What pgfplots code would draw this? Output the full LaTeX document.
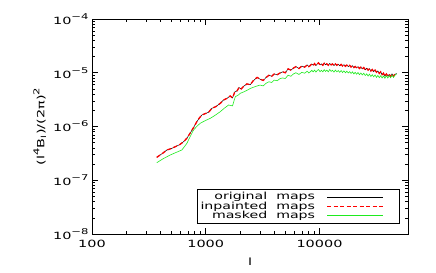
\documentclass[border=0pt]{standalone}
\usepackage{fontspec}
\setmainfont[FakeStretch=1.45]{DejaVu Sans}
\usepackage{pgfplots}
\usepackage{pgfplotstable}
\pgfplotsset{compat=1.18}
\definecolor{idlgreen}{RGB}{30,235,30}
\pgfplotstableread{
l v
371 2.67e-7
420 3.2e-7
455 3.66e-7
500 3.9e-7
539 4.2e-7
590 4.6e-7
637 5.2e-7
680 6.0e-7
729 7.5e-7
780 9.5e-7
835 1.23e-6
880 1.45e-6
925 1.64e-6
1000 1.75e-6
1059 1.84e-6
1133 2.18e-6
1230 2.35e-6
1343 2.7e-6
1430 3.1e-6
1538 3.34e-6
1640 3.7e-6
1720 3.4e-6
1800 4.4e-6
1884 4.6e-6
1960 5.3e-6
2050 5.0e-6
2155 5.6e-6
2300 6.2e-6
2465 6.0e-6
2600 7.0e-6
2826 8.2e-6
3000 7.6e-6
3200 7.2e-6
3400 8.2e-6
3600 9.0e-6
3800 8.6e-6
4000 9.5e-6
4250 9.2e-6
4500 9.9e-6
4750 1.04e-5
5000 1.00e-5
5300 1.18e-5
5600 1.12e-5
5900 1.22e-5
6200 1.30e-5
6600 1.20e-5
7000 1.33e-5
7400 1.27e-5
7800 1.40e-5
8050 1.30e-5
8300 1.36e-5
8550 1.46e-5
8800 1.38e-5
9050 1.48e-5
9300 1.36e-5
9550 1.45e-5
9800 1.53e-5
10100 1.40e-5
10400 1.46e-5
10700 1.38e-5
11000 1.50e-5
11300 1.41e-5
11600 1.47e-5
11950 1.38e-5
12300 1.49e-5
12650 1.40e-5
13000 1.46e-5
13400 1.36e-5
13800 1.46e-5
14200 1.38e-5
14600 1.44e-5
15050 1.35e-5
15500 1.43e-5
15950 1.34e-5
16400 1.41e-5
16900 1.32e-5
17400 1.39e-5
17900 1.30e-5
18400 1.37e-5
18950 1.28e-5
19500 1.35e-5
20050 1.25e-5
20600 1.31e-5
21200 1.23e-5
21800 1.30e-5
22450 1.20e-5
23100 1.27e-5
23800 1.18e-5
24500 1.25e-5
25250 1.14e-5
26000 1.21e-5
26750 1.12e-5
27500 1.19e-5
28300 1.08e-5
29100 1.15e-5
29950 1.05e-5
30800 1.12e-5
31700 1.02e-5
32600 1.08e-5
33550 0.97e-5
34500 1.04e-5
35500 0.92e-5
36500 0.98e-5
37600 0.86e-5
38700 0.95e-5
39850 0.87e-5
41000 0.93e-5
42200 0.85e-5
43400 0.95e-5
44700 0.86e-5
46000 0.93e-5
47600 0.97e-5
}\orig
\pgfplotstableread{
l v
371 2.12e-7
420 2.5e-7
487 2.95e-7
550 3.3e-7
617 3.66e-7
683 4.87e-7
730 6.5e-7
781 8.6e-7
840 1.02e-6
895 1.15e-6
1000 1.3e-6
1096 1.42e-6
1200 1.6e-6
1343 1.89e-6
1460 2.2e-6
1588 2.51e-6
1720 2.42e-6
1780 3.1e-6
1820 3.58e-6
1950 3.9e-6
2013 4.15e-6
2155 4.4e-6
2300 4.7e-6
2465 5.1e-6
2700 5.5e-6
3000 5.9e-6
3200 5.7e-6
3400 6.4e-6
3600 6.8e-6
3800 6.6e-6
4000 7.3e-6
4250 7.1e-6
4500 7.8e-6
4750 8.0e-6
5000 7.8e-6
5300 9.0e-6
5600 8.6e-6
5900 9.5e-6
6200 1.00e-5
6600 0.93e-5
7000 1.02e-5
7400 0.98e-5
7800 1.07e-5
8050 0.99e-5
8300 1.04e-5
8550 1.11e-5
8800 1.04e-5
9050 1.12e-5
9300 1.03e-5
9550 1.10e-5
9800 1.15e-5
10100 1.05e-5
10400 1.11e-5
10700 1.04e-5
11000 1.14e-5
11300 1.06e-5
11600 1.12e-5
11950 1.04e-5
12300 1.15e-5
12650 1.06e-5
13000 1.11e-5
13400 1.03e-5
13800 1.12e-5
14200 1.04e-5
14600 1.10e-5
15050 1.02e-5
15500 1.10e-5
15950 1.01e-5
16400 1.08e-5
16900 1.00e-5
17400 1.07e-5
17900 0.99e-5
18400 1.05e-5
18950 0.97e-5
19500 1.04e-5
20050 0.95e-5
20600 1.02e-5
21200 0.94e-5
21800 1.01e-5
22450 0.92e-5
23100 0.99e-5
23800 0.91e-5
24500 0.98e-5
25250 0.89e-5
26000 0.95e-5
26750 0.87e-5
27500 0.94e-5
28300 0.85e-5
29100 0.92e-5
29950 0.84e-5
30800 0.91e-5
31700 0.82e-5
32600 0.89e-5
33550 0.81e-5
34500 0.88e-5
35500 0.80e-5
36500 0.87e-5
37600 0.79e-5
38700 0.88e-5
39850 0.80e-5
41000 0.88e-5
42200 0.81e-5
43400 0.90e-5
44700 0.82e-5
46000 0.90e-5
47600 0.95e-5
}\masked
\newcommand{\upsc}[1]{\raisebox{0.5em}{\fontsize{8}{8}\selectfont #1}}
\begin{document}
\begin{tikzpicture}
\path[use as bounding box] (0,0) rectangle (436bp,273bp);
\begin{axis}[
  at={(92bp,39bp)}, anchor=south west,
  width=316bp, height=215bp, scale only axis,
  xmode=log, ymode=log,
  xmin=100, xmax=60000, ymin=1e-8, ymax=1e-4,
  xtick={100,1000,10000}, xticklabels={100,1000,10000},
  ytick={1e-8,1e-7,1e-6,1e-5,1e-4},
  yticklabels={10\upsc{−8},10\upsc{−7},10\upsc{−6},10\upsc{−5},10\upsc{−4}},
  /pgf/number format/assume math mode=true,
  tick label style={font=\fontsize{10}{10}\selectfont},
  xticklabel style={yshift=-3bp},
  major tick length=6bp, minor tick length=3bp,
  tick style={line width=0.6pt,black},
  axis line style={line width=0.8pt},
  xlabel={l}, ylabel={(l\upsc{4}B\textsubscript{l})/(2π)\upsc{2}},
  label style={font=\fontsize{10}{10}\selectfont},
  xlabel style={yshift=-3bp},
  legend style={at={(0.972,0.047)}, anchor=south east, draw=black, line width=0.6pt,
    font=\fontsize{9.8}{9.8}\selectfont, row sep=-2.5pt, inner sep=2pt,
    column sep=4bp, nodes={inner sep=1.5pt}},
  legend plot pos=right, legend cell align=right,
  every axis legend/.append style={legend image code/.code={\draw[#1] (6bp,0bp) -- (62bp,0bp); \path (0bp,0bp) (75bp,0bp);}},
]
\addplot[black, line width=0.5pt] table[x=l,y=v] {\orig};
\addlegendentry{original\ \ maps}
\addplot[red, line width=1.3pt, dash pattern=on 4pt off 2.5pt] table[x=l,y=v] {\orig};
\addlegendentry{inpainted\ \ maps}
\addplot[idlgreen, line width=0.6pt] table[x=l,y=v] {\masked};
\addlegendentry{masked\ \ maps}
\end{axis}
\end{tikzpicture}
\end{document}
